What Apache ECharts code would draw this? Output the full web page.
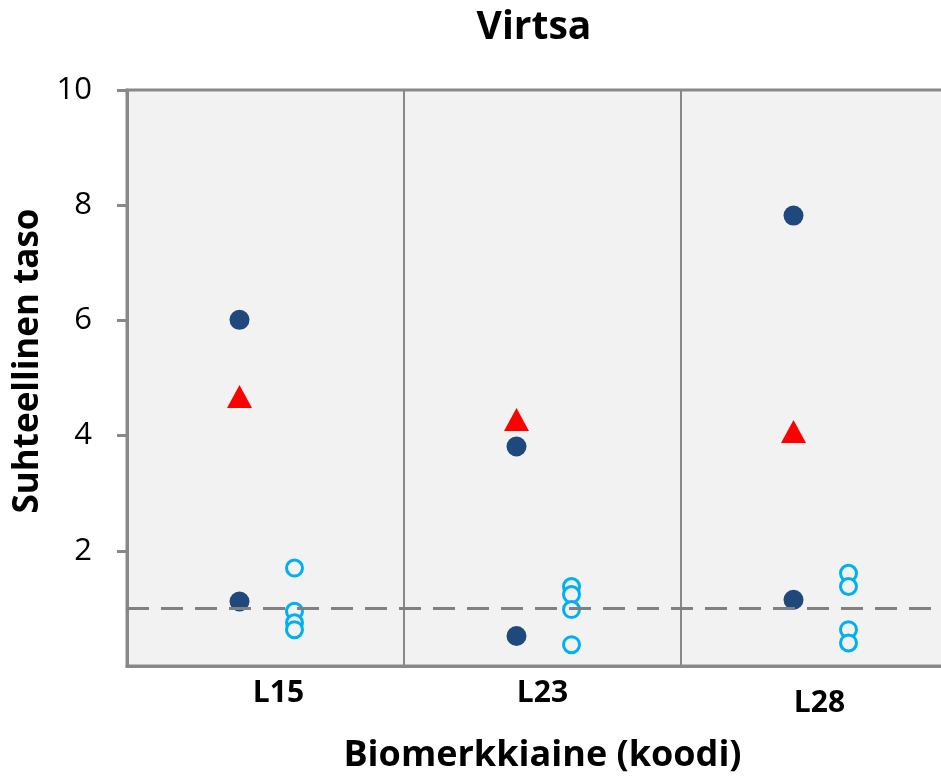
<!DOCTYPE html>
<html>
<head>
<meta charset="utf-8">
<script src="https://cdn.jsdelivr.net/npm/echarts@6/dist/echarts.min.js"></script>
<style>
html,body{margin:0;padding:0;background:#fff;}
#c{width:941px;height:776px;}
</style>
</head>
<body>
<div id="c"></div>
<script>
const categories = ['L15', 'L23', 'L28'];
// dark filled circles (individual values)
const darkValues = [
  ['L15', 6.01], ['L15', 1.12],
  ['L23', 3.81], ['L23', 0.52],
  ['L28', 7.82], ['L28', 1.15]
];
// red triangles (mean)
const meanValues = [
  ['L15', 4.68], ['L23', 4.28], ['L28', 4.07]
];
// light blue open circles
const lightValues = [
  ['L15', 1.70], ['L15', 0.95], ['L15', 0.75], ['L15', 0.63],
  ['L23', 1.38], ['L23', 1.24], ['L23', 0.98], ['L23', 0.37],
  ['L28', 1.61], ['L28', 1.38], ['L28', 0.63], ['L28', 0.40]
];
const refLine = 1;
const yTicks = [0, 2, 4, 6, 8, 10];

const FONT = "'Open Sans', 'Liberation Sans', sans-serif";
const chart = echarts.init(document.getElementById('c'), null, {renderer: 'canvas'});
chart.setOption({
  animation: false,
  backgroundColor: '#ffffff',
  title: {
    text: 'Virtsa',
    left: 529, top: 3,
    textAlign: 'center',
    textStyle: {fontFamily: FONT, fontWeight: 'bold', fontSize: 39, color: '#000'}
  },
  grid: {
    left: 127, top: 90, width: 831, height: 576,
    containLabel: false,
    outerBoundsMode: 'none',
    show: true, backgroundColor: '#f2f2f2',
    borderColor: '#888888', borderWidth: 3
  },
  xAxis: {
    type: 'category',
    data: categories,
    boundaryGap: true,
    name: 'Biomerkkiaine (koodi)',
    nameLocation: 'middle',
    nameGap: 72,
    nameTextStyle: {fontFamily: FONT, fontWeight: 'bold', fontSize: 36, color: '#000'},
    axisLine: {show: true, lineStyle: {color: '#888888', width: 3}},
    axisTick: {show: false},
    axisLabel: {
      fontFamily: FONT, fontWeight: 'bold', fontSize: 30, color: '#000', margin: 12,
      formatter: function (v) {
        if (v === 'L28') return '{low|' + v + '}';
        if (v === 'L15') return '{right|' + v + '}';
        return v;
      },
      rich: {
        low: {fontFamily: FONT, fontWeight: 'bold', fontSize: 30, color: '#000', padding: [10, 0, 0, 0]},
        right: {fontFamily: FONT, fontWeight: 'bold', fontSize: 30, color: '#000', padding: [0, 0, 0, 26]}
      }
    },
    splitLine: {show: true, lineStyle: {color: '#888888', width: 2}}
  },
  yAxis: {
    type: 'value',
    min: yTicks[0], max: yTicks[yTicks.length - 1], interval: 2,
    name: 'Suhteellinen taso',
    nameLocation: 'middle',
    nameGap: 74,
    nameTextStyle: {fontFamily: FONT, fontWeight: 'bold', fontSize: 35, color: '#000', padding: [0, 0, 0, 34]},
    axisLine: {show: true, lineStyle: {color: '#888888', width: 3}},
    axisTick: {show: true, inside: false, length: 10, lineStyle: {color: '#888888', width: 3}},
    axisLabel: {showMinLabel: false, fontFamily: FONT, fontSize: 31, color: '#000', margin: 35},
    splitLine: {show: false}
  },
  series: [
    {
      type: 'scatter',
      name: 'dark',
      data: darkValues,
      symbol: 'circle',
      symbolSize: 20,
      symbolOffset: [-26, 0],
      itemStyle: {color: '#1f497d', opacity: 1},
      z: 3,
      markLine: {
        silent: true,
        symbol: 'none',
        label: {show: false},
        lineStyle: {color: '#808080', width: 3, type: [22, 12], opacity: 1},
        data: [{yAxis: refLine}]
      }
    },
    {
      type: 'scatter',
      name: 'mean',
      data: meanValues,
      symbol: 'triangle',
      symbolSize: [25, 23],
      symbolOffset: [-26, 0],
      itemStyle: {color: '#ff0000', opacity: 1},
      z: 4
    },
    {
      type: 'scatter',
      name: 'light',
      data: lightValues,
      symbol: 'circle',
      symbolSize: 16,
      symbolOffset: [29, 0],
      itemStyle: {color: '#f2f2f2', borderColor: '#00b0f0', borderWidth: 3, opacity: 1},
      z: 3
    }
  ]
});
</script>
</body>
</html>
